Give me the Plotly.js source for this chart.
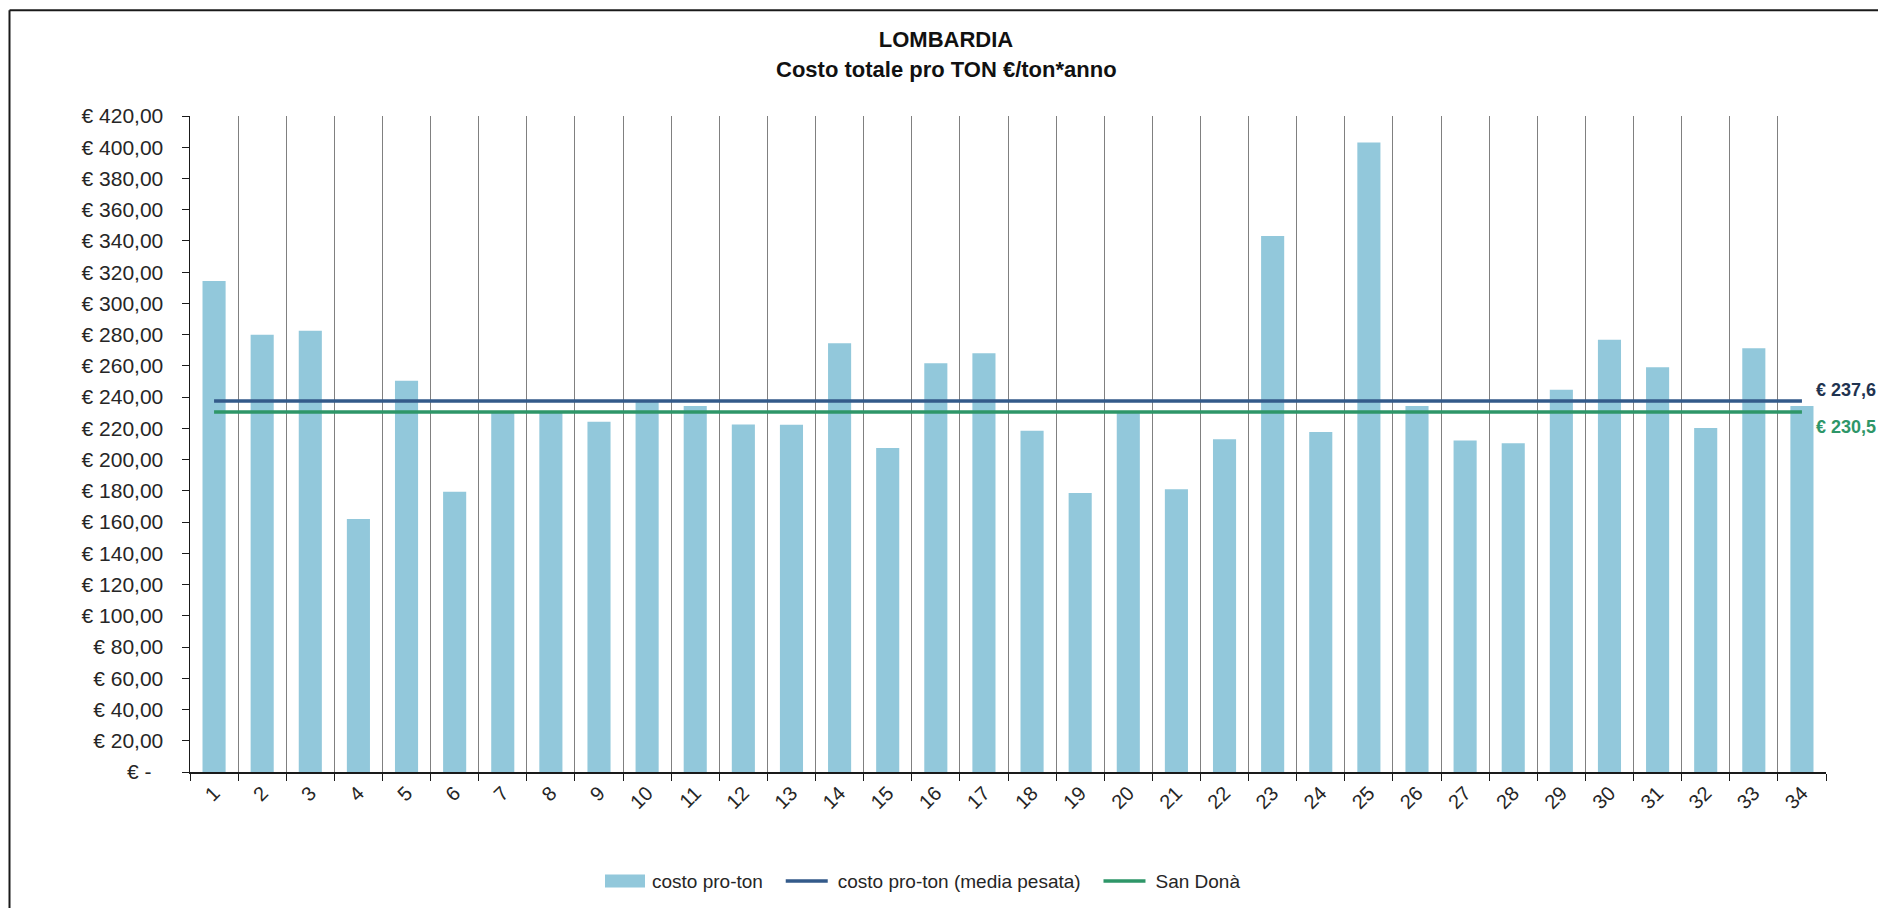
<!DOCTYPE html>
<html>
<head>
<meta charset="utf-8">
<script src="https://cdn.plot.ly/plotly-3.0.1.min.js"></script>
<style>
  html, body { margin: 0; padding: 0; background: #ffffff; overflow: hidden; }
  #chart { width: 1878px; height: 912px; }
</style>
</head>
<body>
<div id="chart"></div>
<script>
// Impianti (categorie sull'asse x)
const impianti = ['1','2','3','4','5','6','7','8','9','10','11','12','13','14','15','16','17',
                  '18','19','20','21','22','23','24','25','26','27','28','29','30','31','32','33','34'];

// Costo totale pro ton (€/ton*anno) per impianto
const costoProTon = [314.3, 280.0, 282.5, 162.0, 250.5, 179.4, 230.0, 230.0, 224.3, 238.0,
                     234.4, 222.5, 222.4, 274.5, 207.5, 261.7, 268.1, 218.5, 178.7, 231.0,
                     181.1, 213.0, 343.1, 217.7, 403.0, 234.4, 212.2, 210.5, 244.8, 276.8,
                     259.2, 220.2, 271.3, 234.4];

// Valori di riferimento
const mediaPesata = 237.6;
const sanDona = 230.5;

// Nomi delle serie in legenda
const serieNomi = ['costo pro-ton', 'costo pro-ton (media pesata)', 'San Donà'];

// Tacche dell'asse y
const yTickVals = [0, 20, 40, 60, 80, 100, 120, 140, 160, 180, 200, 220, 240, 260, 280, 300, 320, 340, 360, 380, 400, 420];
const yTickText = yTickVals.map(v => v === 0 ? '€ -\u00a0\u00a0' : '€ ' + v.toFixed(2).replace('.', ','));

const euro1 = v => '€ ' + v.toFixed(1).replace('.', ',');
// spazio extra tra le voci della legenda
const pad = s => s + '\u00a0'.repeat(3);

const FONT = 'Liberation Sans, Arial, sans-serif';
const W = 1878, H = 912;
const M = { l: 190, r: 52, t: 116, b: 135 };
const pw = W - M.l - M.r, ph = H - M.t - M.b;
const px2x = px => (px - M.l) / pw;
const px2y = py => (H - M.b - py) / ph;

const COL_BAR = '#92c8db';
const COL_MEDIA = '#335a8a';
const COL_SD = '#2e9668';
const last = impianti.length - 1;

const traces = [
  {
    type: 'bar',
    name: pad(serieNomi[0]),
    x: impianti,
    y: costoProTon,
    marker: { color: COL_BAR },
    hoverinfo: 'x+y'
  },
  {
    type: 'scatter',
    mode: 'lines',
    name: pad(serieNomi[1]),
    x: impianti,
    y: impianti.map(() => mediaPesata),
    line: { color: COL_MEDIA, width: 3.5 }
  },
  {
    type: 'scatter',
    mode: 'lines',
    name: serieNomi[2],
    x: impianti,
    y: impianti.map(() => sanDona),
    line: { color: COL_SD, width: 3.5 }
  }
];

const layout = {
  width: W,
  height: H,
  margin: M,
  paper_bgcolor: '#ffffff',
  plot_bgcolor: '#ffffff',
  font: { family: FONT, size: 20, color: '#262626' },
  bargap: 0.52,
  showlegend: true,
  title: {
    text: 'LOMBARDIA',
    font: { family: FONT, size: 22, color: '#111111', weight: 'bold' },
    x: 946 / W,
    xanchor: 'center',
    y: 1 - 39 / H,
    yanchor: 'middle',
    xref: 'container',
    yref: 'container'
  },
  xaxis: {
    type: 'category',
    range: [-0.5, last + 0.5],
    autorange: false,
    tickson: 'boundaries',
    showgrid: true,
    gridcolor: '#808080',
    gridwidth: 1,
    showline: true,
    linecolor: '#1a1a1a',
    linewidth: 1.5,
    ticks: 'outside',
    ticklen: 7,
    tickcolor: '#1a1a1a',
    tickangle: -45,
    tickfont: { family: FONT, size: 20, color: '#262626' },
    zeroline: false,
    fixedrange: true
  },
  yaxis: {
    range: [0, 420],
    autorange: false,
    tickvals: yTickVals,
    ticktext: yTickText,
    showgrid: false,
    zeroline: false,
    showline: true,
    linecolor: '#1a1a1a',
    linewidth: 1.5,
    ticks: 'outside',
    ticklen: 7,
    ticklabelstandoff: 14,
    tickcolor: '#1a1a1a',
    tickfont: { family: FONT, size: 21, color: '#262626' },
    fixedrange: true
  },
  legend: {
    orientation: 'h',
    x: px2x(922),
    xanchor: 'center',
    y: px2y(887),
    yanchor: 'middle',
    font: { family: FONT, size: 19, color: '#262626' },
    itemwidth: 44,
    traceorder: 'normal'
  },
  annotations: [
    {
      xref: 'paper', yref: 'paper',
      x: px2x(946), y: px2y(69),
      xanchor: 'center', yanchor: 'middle',
      text: '<b>Costo totale pro TON €/ton*anno</b>',
      showarrow: false,
      font: { family: FONT, size: 22, color: '#111111' }
    },
    {
      x: last, y: mediaPesata,
      xanchor: 'left', yanchor: 'middle',
      xshift: 12, yshift: 11,
      text: '<b>' + euro1(mediaPesata) + '</b>',
      showarrow: false,
      font: { family: FONT, size: 18, color: '#1f3350' }
    },
    {
      x: last, y: sanDona,
      xanchor: 'left', yanchor: 'middle',
      xshift: 12, yshift: -15,
      text: '<b>' + euro1(sanDona) + '</b>',
      showarrow: false,
      font: { family: FONT, size: 18, color: COL_SD }
    }
  ],
  shapes: [
    // cornice del grafico (lati superiore e sinistro)
    {
      type: 'line', xref: 'paper', yref: 'paper', layer: 'above',
      x0: px2x(9.5), x1: px2x(W + 2), y0: px2y(9.5), y1: px2y(9.5),
      line: { color: '#1a1a1a', width: 2 }
    },
    {
      type: 'line', xref: 'paper', yref: 'paper', layer: 'above',
      x0: px2x(9.5), x1: px2x(9.5), y0: px2y(9.5), y1: px2y(H + 2),
      line: { color: '#1a1a1a', width: 2 }
    }
  ]
};

Plotly.newPlot('chart', traces, layout, { displayModeBar: false, staticPlot: true }).then(gd => {
  // simboli della legenda più larghi: rettangolo per le barre, tratto lungo per le linee
  gd.querySelectorAll('.legend path.legendbar, .legend path.legendundefined').forEach(p => {
    p.setAttribute('d', 'M-20,6.5H20V-6.5H-20Z');
  });
  gd.querySelectorAll('.legend path.js-line').forEach(p => {
    p.setAttribute('d', 'M2,0h42');
  });
});
</script>
</body>
</html>
